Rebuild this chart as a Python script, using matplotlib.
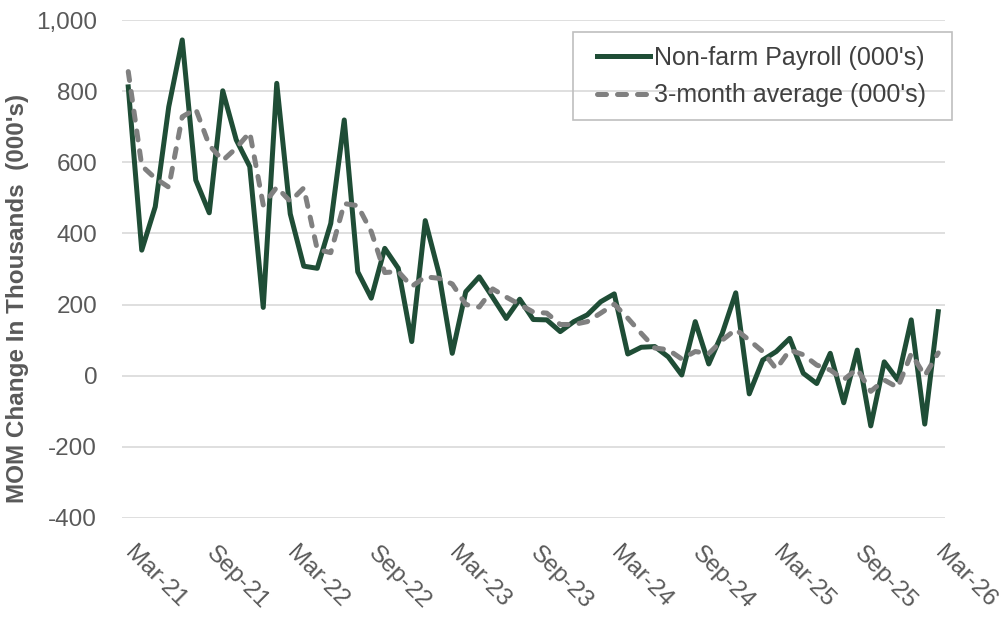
import numpy as np
import pandas as pd
import matplotlib.pyplot as plt
from matplotlib.patches import Rectangle
from matplotlib.ticker import FuncFormatter

plt.rcParams['font.family'] = ['Liberation Sans', 'DejaVu Sans']

# monthly categories Mar-21 .. Mar-26
months = list(pd.date_range('2021-03-01', '2026-03-01', freq='MS').strftime('%b-%y'))
tick_labels = ["Mar-21", "Sep-21", "Mar-22", "Sep-22", "Mar-23", "Sep-23",
               "Mar-24", "Sep-24", "Mar-25", "Sep-25", "Mar-26"]

payroll = [812, 353, 475, 756, 944, 550, 458, 801, 663, 588,
           192, 822, 455, 308, 302, 428, 719, 292, 218, 358,
           302, 96, 436, 290, 63, 236, 278, 220, 161, 215,
           158, 157, 124, 152, 171, 208, 230, 61, 80, 82,
           53, 2, 152, 33, 119, 233, -51, 44, 68, 105,
           7, -22, 63, -76, 72, -141, 39, -12, 157, -136,
           180]
avg3 = [855, 590, 555, 530, 728, 750, 648, 605, 640, 684,
        480, 530, 490, 528, 355, 346, 484, 478, 405, 290,
        293, 251, 278, 274, 258, 200, 193, 244, 221, 200,
        179, 176, 144, 144, 152, 176, 201, 162, 119, 78,
        73, 47, 68, 62, 100, 130, 100, 68, 19, 72,
        59, 30, 16, -11, 19, -44, -12, -33, 62, 0,
        64]

GREEN = "#1f4d36"
GRAY = "#808080"
TXT = "#595959"

W, H = 1006, 620
fig = plt.figure(figsize=(W / 100, H / 100), dpi=100)
fig.patch.set_facecolor("white")
ax = fig.add_axes([121.5 / W, 1 - 518 / H, (945 - 121.5) / W, (518 - 20) / H])

x = np.arange(len(months))
ax.plot(x, payroll, color=GREEN, lw=3.6, solid_joinstyle='round',
        label="Non-farm Payroll (000's)")
ax.plot(x, avg3, color=GRAY, lw=3.6, linestyle=(0, (1.8, 2.2)),
        dash_capstyle='round', label="3-month average (000's)")

ax.set_xlim(-0.5, len(months) - 0.5)
ax.set_ylim(-400, 1000)
ax.set_yticks(np.arange(-400, 1001, 200))
ax.yaxis.set_major_formatter(FuncFormatter(lambda v, p: "{:,.0f}".format(v)))
ax.set_xticks([months.index(t) for t in tick_labels])
ax.set_xticklabels(tick_labels, rotation=-45, ha='left', va='center',
                   rotation_mode='anchor')

for s in ax.spines.values():
  s.set_visible(False)
ax.yaxis.grid(True, color="#d9d9d9", lw=1.2)
ax.set_axisbelow(True)
ax.tick_params(axis='y', length=0, pad=17.5, labelsize=17.5, labelcolor=TXT)
ax.tick_params(axis='x', length=0, pad=23, labelsize=17.5, labelcolor=TXT)

fig.text(18 / W, 1 - 298 / H, "MOM Change In Thousands  (000's)", rotation=90,
         ha='center', va='center', fontsize=17.5, fontweight='bold', color=TXT)

leg = ax.legend(loc='center left', bbox_to_anchor=(597 / W, 1 - 76.5 / H),
                bbox_transform=fig.transFigure, frameon=False, fontsize=18,
                borderpad=0, borderaxespad=0, handlelength=2.1,
                handletextpad=0.2, labelspacing=0.55, labelcolor="#404040")
fig.patches.append(Rectangle((573 / W, 1 - 120 / H), 379 / W, 88 / H,
                             transform=fig.transFigure, fill=False,
                             edgecolor="#bfbfbf", lw=1.2))

fig.savefig("out.png", dpi=100)
